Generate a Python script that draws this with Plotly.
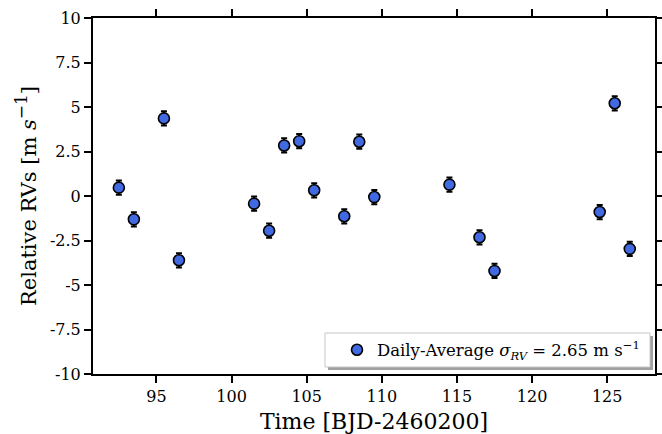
import plotly.graph_objects as go

# Daily-averaged relative RVs
time_bjd = [92.5, 93.5, 95.5, 96.5, 101.5, 102.5, 103.5, 104.5, 105.5, 107.5,
            108.5, 109.5, 114.5, 116.5, 117.5, 124.5, 125.5, 126.5]
rv = [0.47, -1.31, 4.36, -3.61, -0.43, -1.95, 2.84, 3.08, 0.32, -1.14,
      3.05, -0.06, 0.64, -2.32, -4.21, -0.90, 5.21, -2.97]
rv_err = [0.4] * len(rv)

ytick_vals = [10, 7.5, 5, 2.5, 0, -2.5, -5, -7.5, -10]
ytick_text = ["10", "7.5", "5", "2.5", "0", "-2.5", "-5", "-7.5", "-10"]
xtick_vals = [95, 100, 105, 110, 115, 120, 125]

font_family = "DejaVu Serif"

fig = go.Figure()
fig.add_trace(go.Scatter(
    x=time_bjd, y=rv, mode="markers",
    name="Daily-Average <i>σ</i><sub><i>RV</i></sub> = 2.65 m s<sup>−1</sup>",
    marker=dict(size=11, color="#4169E1", line=dict(color="black", width=1.6)),
    error_y=dict(type="data", array=rv_err, visible=True, color="black",
                 thickness=2, width=3),
))

axis_common = dict(
    showline=True, linecolor="black", linewidth=2, mirror="ticks",
    ticks="outside", ticklen=7, tickwidth=1.6, tickcolor="black",
    showgrid=False, zeroline=False, automargin=False,
    tickfont=dict(family=font_family, size=16, color="black"),
)

fig.update_xaxes(
    range=[90.78, 128.18], tickmode="array", tickvals=xtick_vals,
    title=dict(text="Time [BJD-2460200]", font=dict(family=font_family, size=22, color="black"),
               standoff=10),
    **axis_common,
)
fig.update_yaxes(
    range=[-10, 10], tickmode="array", tickvals=ytick_vals, ticktext=ytick_text,
    title=dict(text="Relative RVs [m <i>s</i><sup><span style='font-size:17px'>−1</span></sup>]",
               font=dict(family=font_family, size=21, color="black"), standoff=8),
    **axis_common,
)

# legend frame with drop shadow
fig.add_shape(type="rect", xref="paper", yref="paper",
              x0=0.4181, x1=0.9964, y0=0.0112, y1=0.1067,
              fillcolor="#a0a0a0", line=dict(width=0), layer="above")
fig.add_shape(type="rect", xref="paper", yref="paper",
              x0=0.4128, x1=0.9911, y0=0.0197, y1=0.1152,
              fillcolor="white", line=dict(color="#c8c8c8", width=1), layer="above")

fig.update_layout(
    width=662, height=434,
    margin=dict(l=93, r=7, t=18, b=60),
    paper_bgcolor="white", plot_bgcolor="white",
    showlegend=True,
    legend=dict(x=(337 - 93) / 562, y=(374 - 350) / 356, xanchor="left", yanchor="middle",
                bgcolor="rgba(0,0,0,0)", borderwidth=0,
                font=dict(family=font_family, size=16.5, color="black")),
    font=dict(family=font_family, color="black"),
)

fig.write_html("out.html")
